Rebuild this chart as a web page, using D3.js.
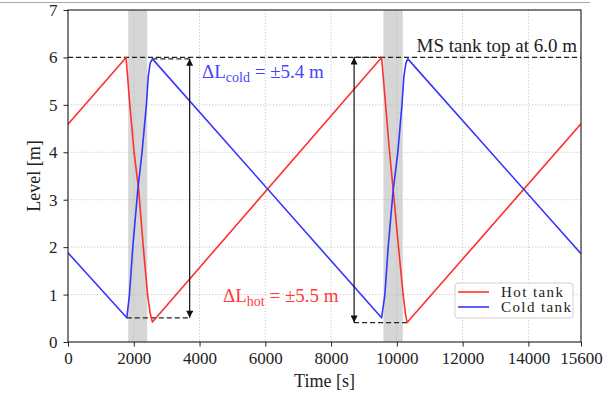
<!DOCTYPE html>
<html>
<head>
<meta charset="utf-8">
<script src="https://cdn.jsdelivr.net/npm/d3@7"></script>
<style>
    body { margin: 0; background: #fff; }
    svg { display: block; font-family: "Liberation Serif", "Times New Roman", serif; }
</style>
</head>
<body>
<svg id="chart" width="604" height="394"></svg>
<script>
// time [s] and level [m]
const hotTime  = [0, 1767, 1880, 2010, 2150, 2290, 2420, 2500, 2567, 9536, 9658, 9779, 9890, 10050, 10191, 10260, 10312, 15600];
const hotLevel = [4.59, 6.0, 5.0, 4.0, 3.2, 2.0, 1.0, 0.6, 0.42, 6.0, 5.0, 4.0, 3.2, 2.0, 1.0, 0.6, 0.41, 4.6];

const coldTime  = [0, 1788, 1870, 1970, 2121, 2251, 2384, 2440, 2500, 2567, 9536, 9636, 9736, 9888, 10030, 10155, 10215, 10275, 10333, 15600];
const coldLevel = [1.88, 0.51, 1.0, 2.0, 3.2, 4.0, 5.0, 5.6, 5.88, 5.97, 0.51, 1.0, 2.0, 3.2, 4.0, 5.0, 5.6, 5.88, 5.97, 1.86];

// grey bands (transition windows)
const bandStart = [1830, 9590];
const bandEnd   = [2410, 10180];

const xTicks = [0, 2000, 4000, 6000, 8000, 10000, 12000, 14000, 15600];
const yTicks = [0, 1, 2, 3, 4, 5, 6, 7];

const tankTop = 6.0;

// annotation arrows: x position, bottom and top level
const arrowTime   = [3700, 8700];
const arrowBottom = [0.51, 0.41];
const arrowTop    = [5.97, 6.0];

// dashed helper segments
const helperFrom  = [1788, 2567, 8700, 8700];
const helperTo    = [3700, 3700, 9536, 10312];
const helperLevel = [0.51, 5.97, 6.0, 0.41];

const HOT = "#ff3030";
const COLD = "#3535ff";

const svg = d3.select("#chart");
const margin = { top: 10, right: 23, bottom: 52, left: 68 },
    width = +svg.attr("width") - margin.left - margin.right,
    height = +svg.attr("height") - margin.top - margin.bottom;

// thin grey rule at the top edge of the original screenshot
svg.append("line")
    .attr("x1", 0).attr("x2", 590)
    .attr("y1", 2.5).attr("y2", 2.5)
    .attr("stroke", "#a8a8a8")
    .attr("stroke-width", 1.2);

const g = svg.append("g")
    .attr("transform", "translate(" + margin.left + "," + margin.top + ")");

const x = d3.scaleLinear().domain([0, 15600]).range([0, width]);
const y = d3.scaleLinear().domain([0, 7]).range([height, 0]);

svg.append("defs").append("clipPath").attr("id", "plot-clip")
    .append("rect").attr("width", width).attr("height", height);

// bands
g.append("g")
    .selectAll("rect")
    .data(bandStart.map((s, i) => [s, bandEnd[i]]))
    .join("rect")
    .attr("x", d => x(d[0]))
    .attr("width", d => x(d[1]) - x(d[0]))
    .attr("y", 0)
    .attr("height", height)
    .attr("fill", "#d6d6d6");

// grid
const grid = g.append("g")
    .attr("stroke", "#b8b8b8")
    .attr("stroke-width", 0.8)
    .attr("stroke-dasharray", "1.2,2");

grid.selectAll("line.gx")
    .data(xTicks)
    .join("line")
    .attr("class", "gx")
    .attr("x1", d => x(d)).attr("x2", d => x(d))
    .attr("y1", 0).attr("y2", height);

grid.selectAll("line.gy")
    .data(yTicks)
    .join("line")
    .attr("class", "gy")
    .attr("x1", 0).attr("x2", width)
    .attr("y1", d => y(d)).attr("y2", d => y(d));

// axes
const xAxis = g.append("g")
    .attr("transform", "translate(0," + height + ")")
    .call(d3.axisBottom(x).tickValues(xTicks).tickFormat(d3.format("d")).tickSizeOuter(0).tickSize(4.5).tickPadding(5));

const yAxis = g.append("g")
    .call(d3.axisLeft(y).tickValues(yTicks).tickFormat(d3.format("d")).tickSizeOuter(0).tickSize(4.5).tickPadding(6));

[xAxis, yAxis].forEach(a => {
    a.select(".domain").remove();
    a.selectAll(".tick line").attr("stroke", "#222").attr("stroke-width", 1);
    a.selectAll(".tick text")
        .attr("fill", "#222")
        .attr("font-size", 17)
        .attr("font-family", "Liberation Serif, serif");
});

// tank top line
g.append("line")
    .attr("x1", x(0)).attr("x2", x(15600))
    .attr("y1", y(tankTop)).attr("y2", y(tankTop))
    .attr("stroke", "#222")
    .attr("stroke-width", 1.3)
    .attr("stroke-dasharray", "5,3");

// helper dashed segments
g.append("g")
    .selectAll("line")
    .data(helperFrom.map((f, i) => ({ from: f, to: helperTo[i], level: helperLevel[i] })))
    .join("line")
    .attr("x1", d => x(d.from)).attr("x2", d => x(d.to))
    .attr("y1", d => y(d.level)).attr("y2", d => y(d.level))
    .attr("stroke", "#222")
    .attr("stroke-width", 1.3)
    .attr("stroke-dasharray", "5,3");

// series
const line = d3.line()
    .x(d => x(d[0]))
    .y(d => y(d[1]));

const series = g.append("g").attr("clip-path", "url(#plot-clip)");

series.append("path")
    .datum(hotTime.map((t, i) => [t, hotLevel[i]]))
    .attr("d", line)
    .attr("fill", "none")
    .attr("stroke", HOT)
    .attr("stroke-width", 1.6)
    .attr("stroke-linejoin", "round");

series.append("path")
    .datum(coldTime.map((t, i) => [t, coldLevel[i]]))
    .attr("d", line)
    .attr("fill", "none")
    .attr("stroke", COLD)
    .attr("stroke-width", 1.6)
    .attr("stroke-linejoin", "round");

// double headed arrows
const defs = svg.select("defs");
defs.append("marker")
    .attr("id", "head")
    .attr("viewBox", "0 0 10 10")
    .attr("refX", 10).attr("refY", 5)
    .attr("markerUnits", "userSpaceOnUse")
    .attr("markerWidth", 9).attr("markerHeight", 7)
    .attr("orient", "auto-start-reverse")
    .append("path")
    .attr("d", "M0,0 L10,5 L0,10 z")
    .attr("fill", "#111");

g.append("g")
    .selectAll("line")
    .data(arrowTime.map((t, i) => ({ t: t, lo: arrowBottom[i], hi: arrowTop[i] })))
    .join("line")
    .attr("x1", d => x(d.t)).attr("x2", d => x(d.t))
    .attr("y1", d => y(d.lo)).attr("y2", d => y(d.hi))
    .attr("stroke", "#111")
    .attr("stroke-width", 1.2)
    .attr("marker-start", "url(#head)")
    .attr("marker-end", "url(#head)");

// spines
g.append("rect")
    .attr("width", width)
    .attr("height", height)
    .attr("fill", "none")
    .attr("stroke", "#222")
    .attr("stroke-width", 1.1);

// annotations
g.append("text")
    .attr("x", width - 4)
    .attr("y", y(tankTop) - 5)
    .attr("text-anchor", "end")
    .attr("font-size", 19)
    .attr("fill", "#222")
    .text("MS tank top at 6.0 m");

function deltaLabel(px, py, sub, rest, color) {
    const t = g.append("text")
        .attr("x", px)
        .attr("y", py)
        .attr("font-size", 19)
        .attr("fill", color);
    t.append("tspan").text("ΔL");
    t.append("tspan").attr("font-size", 14).attr("dy", 4).text(sub);
    t.append("tspan").attr("dy", -4).text(" = ±" + rest + " m");
}

deltaLabel(134, 68, "cold", "5.4", "#4545ff");
deltaLabel(155, 292, "hot", "5.5", "#ff3b3b");

// legend
const legend = g.append("g")
    .attr("transform", "translate(" + (455 - margin.left) + "," + (283 - margin.top) + ")");

legend.append("rect")
    .attr("width", 118)
    .attr("height", 35)
    .attr("rx", 3)
    .attr("fill", "#fff")
    .attr("fill-opacity", 0.85)
    .attr("stroke", "#d0d0d0");

[["Hot tank", HOT], ["Cold tank", COLD]].forEach((d, i) => {
    legend.append("line")
        .attr("x1", 3).attr("x2", 34)
        .attr("y1", 9 + i * 15).attr("y2", 9 + i * 15)
        .attr("stroke", d[1])
        .attr("stroke-width", 1.6);
    legend.append("text")
        .attr("x", 46)
        .attr("y", 13.5 + i * 15)
        .attr("font-size", 15)
        .attr("fill", "#222")
        .attr("textLength", i === 0 ? 62 : 70)
        .attr("lengthAdjust", "spacing")
        .text(d[0]);
});

// axis titles
svg.append("text")
    .attr("x", margin.left + width / 2)
    .attr("y", 387)
    .attr("text-anchor", "middle")
    .attr("font-size", 18)
    .attr("fill", "#222")
    .text("Time [s]");

svg.append("text")
    .attr("transform", "translate(40," + (margin.top + height / 2) + ") rotate(-90)")
    .attr("text-anchor", "middle")
    .attr("font-size", 18)
    .attr("fill", "#222")
    .text("Level [m]");
</script>
</body>
</html>
